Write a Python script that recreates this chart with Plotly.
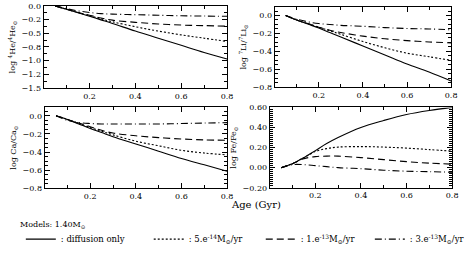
import plotly.graph_objects as go

age = [0.05, 0.1, 0.15, 0.2, 0.25, 0.3, 0.4, 0.5, 0.6, 0.7, 0.8]

he_diff = [0, -0.06, -0.125, -0.19, -0.255, -0.32, -0.46, -0.59, -0.72, -0.85, -0.97]
he_5e14 = [0, -0.06, -0.12, -0.18, -0.235, -0.29, -0.38, -0.46, -0.53, -0.59, -0.65]
he_1e13 = [0, -0.06, -0.12, -0.17, -0.22, -0.26, -0.30, -0.33, -0.35, -0.36, -0.37]
he_3e13 = [0, -0.05, -0.09, -0.12, -0.14, -0.15, -0.16, -0.17, -0.18, -0.185, -0.19]

li_diff = [0, -0.05, -0.095, -0.14, -0.19, -0.24, -0.34, -0.44, -0.54, -0.63, -0.73]
li_5e14 = [0, -0.05, -0.09, -0.13, -0.17, -0.21, -0.29, -0.36, -0.42, -0.46, -0.50]
li_1e13 = [0, -0.05, -0.09, -0.13, -0.165, -0.19, -0.23, -0.26, -0.28, -0.295, -0.305]
li_3e13 = [0, -0.04, -0.07, -0.09, -0.10, -0.11, -0.12, -0.135, -0.145, -0.15, -0.16]

ca_diff = [0, -0.04, -0.09, -0.14, -0.185, -0.23, -0.31, -0.39, -0.47, -0.54, -0.61]
ca_5e14 = [0, -0.04, -0.085, -0.13, -0.17, -0.21, -0.28, -0.33, -0.38, -0.41, -0.43]
ca_1e13 = [0, -0.04, -0.08, -0.12, -0.16, -0.19, -0.22, -0.24, -0.255, -0.265, -0.27]
ca_3e13 = [0, -0.05, -0.075, -0.085, -0.09, -0.09, -0.09, -0.09, -0.085, -0.08, -0.075]

fe_diff = [0, 0.04, 0.10, 0.17, 0.24, 0.30, 0.40, 0.47, 0.53, 0.57, 0.60]
fe_5e14 = [0, 0.04, 0.10, 0.16, 0.19, 0.205, 0.21, 0.205, 0.195, 0.18, 0.165]
fe_1e13 = [0, 0.04, 0.09, 0.11, 0.115, 0.115, 0.10, 0.08, 0.06, 0.045, 0.035]
fe_3e13 = [0, 0.03, 0.03, 0.02, 0.01, 0.0, -0.01, -0.025, -0.035, -0.04, -0.045]

series_names = [": diffusion only",
                ": 5.e<sup>-14</sup>M<sub>\u2299</sub>/yr",
                ": 1.e<sup>-13</sup>M<sub>\u2299</sub>/yr",
                ": 3.e<sup>-13</sup>M<sub>\u2299</sub>/yr"]
dashes = ["solid", "2px,2px", "7px,4px", "7px,3px,1px,3px"]
legend_ids = ["legend", "legend2", "legend3", "legend4"]

W, H = 470, 254

def dx(a, b):
    return [a / W, b / W]

def dy(top, bottom):
    return [1 - bottom / H, 1 - top / H]

legend_x = [p / W for p in (21, 150, 263, 373)]

panels = [
    ([he_diff, he_5e14, he_1e13, he_3e13], "x", "y"),
    ([li_diff, li_5e14, li_1e13, li_3e13], "x2", "y2"),
    ([ca_diff, ca_5e14, ca_1e13, ca_3e13], "x3", "y3"),
    ([fe_diff, fe_5e14, fe_1e13, fe_3e13], "x4", "y4"),
]

FONT = "DejaVu Serif"
fig = go.Figure()
for pi, (sets, xa, ya) in enumerate(panels):
    for si, vals in enumerate(sets):
        fig.add_trace(go.Scatter(
            x=age, y=vals, xaxis=xa, yaxis=ya, mode="lines",
            line=dict(color="black", width=1.1, dash=dashes[si], shape="spline"),
            name=series_names[si], showlegend=(pi == 0), legend=legend_ids[si],
            hoverinfo="skip"))

def xax(domain, anchor):
    return dict(domain=domain, anchor=anchor, range=[0, 0.8], tickvals=[0.2, 0.4, 0.6, 0.8],
                ticktext=["0.2", "0.4", "0.6", "0.8"],
                ticks="inside", ticklen=5, tickwidth=1, tickcolor="black",
                minor=dict(ticks="inside", ticklen=3, dtick=0.1, tickcolor="black"),
                showline=True, linecolor="black", linewidth=1, mirror="allticks",
                showgrid=False, zeroline=False, automargin=False,
                tickfont=dict(family=FONT, size=8, color="black"))

def yax(domain, anchor, rng, tickvals, ticktext, minor_dtick, title, standoff):
    return dict(domain=domain, anchor=anchor, range=rng, tickvals=tickvals, ticktext=ticktext,
                ticks="inside", ticklen=5, tickwidth=1, tickcolor="black",
                minor=dict(ticks="inside", ticklen=3, dtick=minor_dtick, tickcolor="black"),
                showline=True, linecolor="black", linewidth=1, mirror="allticks",
                showgrid=False, zeroline=False, automargin=False,
                tickfont=dict(family=FONT, size=8, color="black"),
                title=dict(text=title, font=dict(family=FONT, size=8, color="black"), standoff=standoff))

def leg(x):
    return dict(orientation="h", x=x, y=1 - 242 / H, xanchor="left", yanchor="middle",
                font=dict(family=FONT, size=8.5, color="black"), itemwidth=30,
                bgcolor="rgba(0,0,0,0)")

fig.update_layout(
    width=W, height=H,
    margin=dict(l=0, r=0, t=0, b=0),
    paper_bgcolor="white", plot_bgcolor="white",
    xaxis=xax(dx(44, 229), "y"),
    yaxis=yax(dy(6, 89), "x", [-1.5, 0.0],
              [0, -0.25, -0.5, -0.75, -1.0, -1.25, -1.5],
              ["0.0", "\u22120.2", "\u22120.5", "\u22120.8", "\u22121.0", "\u22121.2", "\u22121.5"],
              0.125, "log <sup>4</sup>He/<sup>4</sup>He<sub>\u2299</sub>", 4),
    xaxis2=xax(dx(277, 455), "y2"),
    yaxis2=yax(dy(6.6, 88.3), "x2", [-0.8, 0.1],
               [0, -0.2, -0.4, -0.6, -0.8],
               ["0.0", "\u22120.2", "\u22120.4", "\u22120.6", "\u22120.8"],
               0.05, "log <sup>7</sup>Li/<sup>7</sup>Li<sub>\u2299</sub>", 4),
    xaxis3=xax(dx(45, 229), "y3"),
    yaxis3=yax(dy(108, 190.7), "x3", [-0.8, 0.1],
               [0, -0.2, -0.4, -0.6, -0.8],
               ["0.0", "\u22120.2", "\u22120.4", "\u22120.6", "\u22120.8"],
               0.05, "log Ca/Ca<sub>\u2299</sub>", 4),
    xaxis4=xax(dx(272, 456), "y4"),
    yaxis4=yax(dy(108.7, 190), "x4", [-0.2, 0.6],
               [-0.2, 0, 0.2, 0.4, 0.6],
               ["\u22120.20", "0.00", "0.20", "0.40", "0.60"],
               0.02, "log Fe/Fe<sub>\u2299</sub>", 4),
    legend=leg(legend_x[0]),
    legend2=leg(legend_x[1]),
    legend3=leg(legend_x[2]),
    legend4=leg(legend_x[3]),
    annotations=[
        dict(text="Age (Gyr)", x=258 / W, y=1 - 207 / H, xref="paper", yref="paper",
             xanchor="center", yanchor="middle",
             showarrow=False, font=dict(family=FONT, size=10, color="black")),
        dict(text="Models: 1.40M<sub>\u2299</sub>", x=18 / W, y=1 - 228 / H,
             xref="paper", yref="paper", xanchor="left", yanchor="middle", showarrow=False,
             font=dict(family=FONT, size=8, color="black")),
    ],
)

fig.write_html("out.html", config={"displayModeBar": False},
               post_script="document.body.style.margin='0px';")
